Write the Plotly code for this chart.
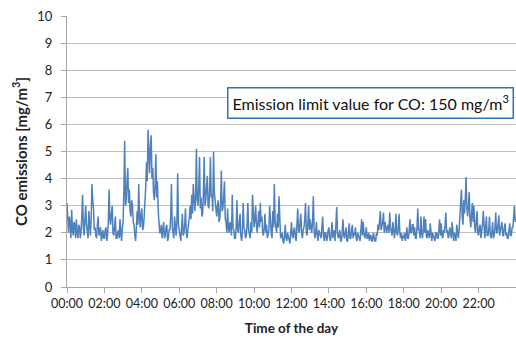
import plotly.graph_objects as go
import pandas as pd

# CO emission values (mg/m3), 2.5-minute resolution, one list per hour (00:00 .. 23:57:30)
h00 = [3.1, 2.2, 2.0, 2.6, 2.4, 1.8, 2.85, 2.1, 1.9, 2.4, 2.3, 1.8, 2.5, 2.0, 1.8, 2.3, 2.2, 1.8, 2.0, 2.6, 3.4, 2.2, 1.9, 2.5]
h01 = [3.0, 2.3, 2.1, 1.8, 2.8, 2.2, 1.9, 2.5, 3.8, 3.2, 2.9, 2.1, 2.2, 1.9, 1.8, 2.3, 2.6, 1.9, 2.0, 2.2, 1.7, 2.0, 2.1, 1.8]
h02 = [1.8, 2.1, 2.2, 1.7, 1.9, 2.4, 3.6, 2.5, 2.3, 2.7, 3.0, 2.0, 1.9, 2.2, 2.6, 1.8, 1.8, 2.0, 2.1, 1.8, 2.5, 2.0, 1.7, 2.2]
h03 = [2.4, 3.6, 5.4, 3.0, 3.2, 3.9, 4.4, 3.1, 3.6, 2.8, 2.6, 3.2, 3.0, 2.4, 2.3, 1.9, 1.7, 2.2, 2.8, 2.3, 3.8, 2.6, 2.2, 2.7]
h04 = [2.9, 2.1, 2.2, 2.6, 3.0, 3.7, 4.6, 3.9, 5.8, 4.5, 4.2, 5.2, 5.6, 4.0, 4.4, 3.5, 3.2, 3.8, 4.9, 3.3, 3.9, 2.8, 2.3, 2.0]
h05 = [2.0, 2.3, 1.8, 2.1, 2.4, 1.8, 1.9, 2.2, 2.3, 1.7, 1.8, 2.1, 2.1, 2.6, 3.8, 2.2, 2.0, 1.8, 2.6, 2.1, 1.9, 2.4, 4.2, 2.3]
h06 = [2.1, 1.9, 1.7, 2.2, 2.7, 1.9, 2.0, 2.3, 2.9, 2.0, 1.8, 2.1, 2.3, 2.6, 3.0, 2.5, 3.4, 2.7, 3.8, 3.1, 2.8, 3.3, 5.1, 3.2]
h07 = [3.0, 3.6, 4.8, 2.9, 3.3, 2.6, 2.7, 3.5, 4.8, 3.0, 3.2, 3.7, 4.1, 3.0, 2.9, 3.6, 4.8, 3.3, 3.4, 2.8, 5.0, 3.5, 3.1, 2.7]
h08 = [2.6, 3.0, 3.2, 2.4, 2.5, 3.1, 4.3, 2.8, 2.9, 3.3, 3.9, 2.5, 2.4, 2.0, 2.9, 2.2, 2.0, 2.4, 2.3, 1.9, 3.4, 2.2, 2.1, 1.8]
h09 = [1.8, 2.2, 3.2, 2.1, 2.0, 2.4, 2.7, 1.9, 1.7, 2.0, 3.1, 2.2, 2.1, 1.8, 1.9, 2.3, 3.1, 2.1, 2.0, 1.8, 2.4, 2.0, 3.4, 2.3]
h10 = [2.2, 2.5, 3.0, 2.3, 2.0, 2.4, 2.8, 2.2, 3.1, 2.4, 2.6, 2.0, 1.9, 2.2, 2.7, 2.0, 2.3, 1.8, 1.9, 2.1, 3.0, 2.2, 2.0, 1.8]
h11 = [2.8, 2.2, 3.8, 2.4, 2.1, 2.0, 2.7, 2.2, 3.35, 2.0, 1.8, 1.9, 2.0, 1.7, 1.6, 1.9, 2.3, 1.8, 1.7, 2.0, 1.9, 1.7, 1.6, 2.0]
h12 = [2.4, 1.9, 1.8, 2.1, 2.2, 1.8, 1.7, 2.3, 2.9, 2.1, 2.0, 2.4, 2.7, 2.0, 1.8, 2.1, 2.2, 2.5, 3.1, 2.0, 1.9, 2.4, 3.0, 2.1]
h13 = [2.5, 2.2, 2.0, 2.4, 3.35, 2.1, 1.8, 2.0, 2.4, 1.9, 1.7, 2.1, 2.0, 1.8, 1.8, 2.2, 2.6, 1.9, 1.7, 2.0, 2.0, 1.7, 1.8, 2.1]
h14 = [2.2, 1.8, 1.7, 2.0, 2.4, 1.8, 1.9, 2.1, 1.7, 2.2, 2.95, 2.0, 1.8, 1.9, 2.1, 1.7, 1.7, 2.0, 2.5, 1.9, 1.8, 2.0, 2.2, 1.7]
h15 = [1.7, 2.0, 2.35, 1.8, 1.8, 2.1, 2.3, 1.8, 2.0, 1.9, 2.2, 1.8, 1.7, 2.0, 1.9, 1.7, 1.7, 2.1, 2.5, 1.9, 2.4, 2.0, 1.8, 1.9]
h16 = [2.2, 1.8, 1.8, 2.0, 1.7, 1.9, 1.9, 1.7, 1.7, 2.0, 1.8, 1.7, 1.7, 2.0, 1.9, 2.3, 2.1, 2.5, 2.8, 2.1, 2.2, 2.4, 2.75, 2.0]
h17 = [2.4, 2.1, 2.0, 2.2, 2.3, 2.0, 2.75, 2.2, 2.1, 1.9, 2.4, 2.0, 1.8, 2.1, 2.7, 2.0, 1.9, 2.2, 2.7, 2.0, 1.8, 2.0, 1.7, 1.9]
h18 = [1.8, 2.0, 1.7, 1.9, 2.2, 1.8, 1.8, 2.1, 2.5, 2.0, 2.0, 2.3, 2.3, 1.9, 2.2, 1.8, 1.8, 2.2, 2.9, 2.1, 2.1, 1.8, 2.6, 2.0]
h19 = [1.8, 2.1, 2.6, 2.0, 2.5, 1.9, 1.8, 2.1, 2.0, 1.8, 2.35, 1.9, 1.7, 2.0, 1.9, 1.7, 1.7, 2.0, 2.0, 1.8, 1.8, 2.1, 2.5, 1.9]
h20 = [2.35, 1.9, 1.8, 2.1, 2.0, 2.3, 2.75, 2.0, 2.1, 1.8, 1.9, 2.2, 2.0, 1.8, 2.4, 1.9, 1.7, 2.0, 1.9, 1.7, 2.3, 1.9, 1.8, 2.1]
h21 = [2.5, 2.9, 3.6, 2.6, 2.3, 3.2, 2.7, 3.3, 4.06, 2.9, 2.6, 3.0, 3.5, 2.5, 2.2, 2.7, 3.1, 2.4, 3.0, 2.2, 2.0, 2.4, 2.8, 2.0]
h22 = [1.9, 2.2, 2.3, 1.8, 2.0, 2.3, 2.8, 2.0, 1.8, 2.2, 2.6, 1.9, 1.9, 2.1, 2.6, 1.9, 1.8, 2.0, 2.4, 1.8, 1.9, 2.2, 2.75, 2.0]
h23 = [2.0, 2.3, 2.65, 1.9, 2.1, 2.3, 2.4, 1.9, 1.9, 2.2, 2.35, 1.9, 2.0, 1.8, 1.8, 2.1, 2.35, 1.9, 1.9, 2.2, 2.2, 2.6, 3.0, 2.4]

hours = [h00, h01, h02, h03, h04, h05, h06, h07, h08, h09, h10, h11,
         h12, h13, h14, h15, h16, h17, h18, h19, h20, h21, h22, h23]
co_values = [v for h in hours for v in h]
times = pd.date_range("2020-01-01 00:00", periods=len(co_values), freq="150s")

tick_labels = ["00:00", "02:00", "04:00", "06:00", "08:00", "10:00",
               "12:00", "14:00", "16:00", "18:00", "20:00", "22:00"]
tick_vals = [pd.Timestamp("2020-01-01 " + t) for t in tick_labels]

FONT = "Lato"

fig = go.Figure()
fig.add_trace(go.Scatter(x=times, y=co_values, mode="lines",
                         line=dict(color="#4F81BD", width=1.5),
                         showlegend=False))

fig.update_layout(
    width=516, height=342,
    margin=dict(l=67, r=0, t=16, b=55),
    paper_bgcolor="white", plot_bgcolor="white",
    font=dict(family=FONT, size=12, color="#222222"),
    xaxis=dict(
        range=[pd.Timestamp("2020-01-01 00:00"), pd.Timestamp("2020-01-02 00:00")],
        tickvals=tick_vals, ticktext=tick_labels,
        ticks="outside", ticklen=5, tickcolor="#A6A6A6",
        showline=True, linecolor="#A6A6A6", linewidth=1,
        showgrid=False, zeroline=False,
        tickfont=dict(size=12.5, family=FONT, color="#222222"),
        title=dict(text="<b>Time of the day</b>", font=dict(size=13.5, family=FONT), standoff=13),
    ),
    yaxis=dict(
        range=[0, 10], dtick=1,
        ticks="outside", ticklen=5, tickcolor="#A6A6A6",
        showline=True, linecolor="#A6A6A6", linewidth=1,
        showgrid=True, gridcolor="#BFBFBF", gridwidth=1,
        zeroline=False,
        tickfont=dict(size=13, family=FONT, color="#222222"),
        ticklabelstandoff=6,
        title=dict(text="<b>CO emissions [mg/m<sup>3</sup>]</b>", font=dict(size=15, family=FONT), standoff=6),
    ),
)

fig.add_annotation(
    xref="paper", yref="y", x=(370 - 67) / 449, y=6.79,
    text="Emission limit value for CO: 150 mg/m<sup>3</sup>",
    showarrow=False, font=dict(size=16, family=FONT, color="#111111"),
    bgcolor="white", bordercolor="#2E75B6", borderwidth=1.5, borderpad=4,
    xanchor="center", yanchor="middle",
)

fig.write_html("out.html")
